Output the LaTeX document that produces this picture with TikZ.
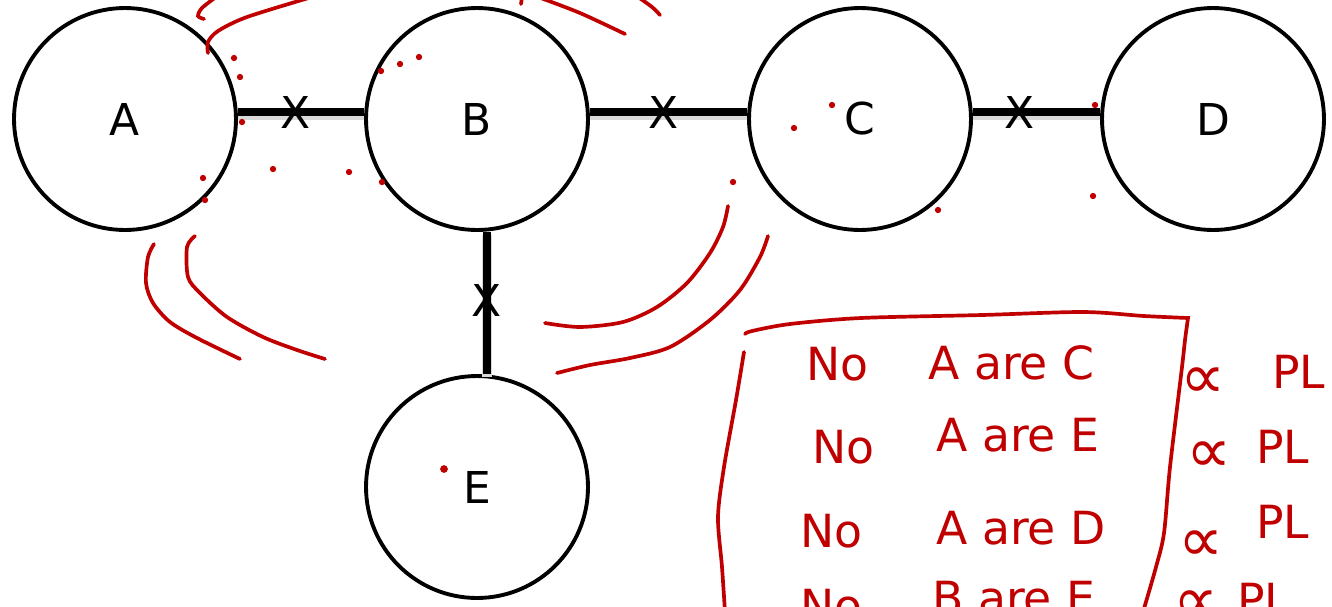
\documentclass[tikz,border=0pt]{standalone}
\usepackage{fontspec}
\setmainfont{DejaVu Sans}
\usepackage{tikz}
\definecolor{pen}{RGB}{192,0,0}

\begin{document}
\begin{tikzpicture}[x=0.02cm,y=-0.02cm,
  ball/.style={draw, circle, line width=2.2pt, minimum size=4.44cm, inner sep=0pt, font=\fontsize{25}{28}\selectfont},
  bar/.style={line width=4.8pt, preaction={draw, black!15, line width=6pt, transform canvas={yshift=-1.5pt}}},
  cut/.style={inner sep=0pt, font=\fontsize{25}{28}\selectfont},
  ink/.style={pen, line width=2.1pt, line cap=round},
  note/.style={pen, anchor=west, inner sep=0pt, font=\fontsize{26}{28}\selectfont},
  prop/.style={pen, anchor=west, inner sep=0pt, text height=0.45em, text depth=0pt, font=\fontsize{36}{36}\selectfont}]
\useasboundingbox (0,0) rectangle (1332,606);
\clip (0,0) rectangle (1332,606);
% the five variables
\node[ball] (a) at (125,119) {A};
\node[ball] (b) at (477,119) {B};
\node[ball] (c) at (860,119) {C};
\node[ball] (d) at (1213,119) {D};
\node[ball] (e) at (477,487) {E};
%\draw (a) -- (b);
\draw[bar] ([yshift=0.14cm]a.east) -- node[cut,pos=.46] (x1) {X} ([yshift=0.14cm]b.west);
\draw[bar] ([yshift=0.14cm]b.east) -- node[cut,pos=.47] (x2) {X} ([yshift=0.14cm]c.west);
\draw[bar] ([yshift=0.14cm]c.east) -- node[cut,pos=.37] (x3) {X} ([yshift=0.14cm]d.west);
\draw[bar] ([xshift=0.2cm]b.south) -- node[cut,pos=.48] (x4) {X} ([xshift=0.2cm]e.north);
% red marks
\draw[ink] plot[smooth] coordinates {(204,19) (198,16) (202,8) (216,-3)};
\draw[ink] plot[smooth] coordinates {(208,53) (208,42) (218,31) (247,17) (312,-3)};
\draw[ink] (522,-3) -- (521,4);
\draw[ink] plot[smooth] coordinates {(538,-3) (580,13) (625,34)};
\draw[ink] plot[smooth] coordinates {(638,-3) (652,7) (660,15)};
\draw[ink] plot[smooth] coordinates {(154,244) (148,257) (146,283) (153,303) (170,322) (197,338) (240,359)};
\draw[ink] plot[smooth] coordinates {(195,236) (187,247) (188,277) (200,293) (227,317) (263,337) (297,350) (325,359)};
\draw[ink] plot[smooth] coordinates {(728,206) (723,227) (710,253) (687,283) (657,307) (623,322) (580,327) (545,323)};
\draw[ink] plot[smooth] coordinates {(768,236) (760,257) (740,290) (710,320) (670,347) (630,358) (590,365) (557,373)};
\fill[pen] (234,58) circle (1.8pt) (240,77) circle (1.8pt) (242,122) circle (1.8pt)
  (203,178) circle (1.8pt) (205,200) circle (1.8pt) (273,169) circle (1.8pt)
  (349,172) circle (1.8pt) (382,182) circle (1.8pt) (381,71) circle (1.8pt)
  (400,64) circle (1.8pt) (419,57) circle (1.8pt) (832,105) circle (1.8pt)
  (794,128) circle (1.8pt) (733,182) circle (1.8pt) (938,210) circle (1.8pt)
  (1095,105) circle (1.8pt) (1093,196) circle (1.8pt) (444,469) circle (2.2pt);
% the box of results
\draw[ink] plot[smooth] coordinates {(745,334) (752,331) (790,324) (861,318) (982,315) (1083,312) (1144,316) (1188,318)}
  -- plot[smooth] coordinates {(1188,318) (1185,340) (1182,367) (1170,467) (1164,533) (1156,567) (1143,612)};
\draw[ink] plot[smooth] coordinates {(744,352) (736,400) (724,467) (718,517) (722,567) (725,612)};
\node[note] (n1) at (806,364) {No};
\node[note] (r1) at (928,363) {A are C};
\node[note] (n2) at (812,447) {No};
\node[note] (r2) at (936,435) {A are E};
\node[note] (n3) at (800,531) {No};
\node[note] (r3) at (936,528) {A are D};
\node[note] (n4) at (800,606) {No};
\node[note] (r4) at (932,598) {B are E};
\node[prop] (p1) at (1180,395) {∝};
\node[note] (q1) at (1272,372) {PL};
\node[prop] (p2) at (1186,469) {∝};
\node[note] (q2) at (1256,447) {PL};
\node[prop] (p3) at (1178,558) {∝};
\node[note] (q3) at (1256,522) {PL};
\node[prop] (p4) at (1173,618) {∝};
\node[note] (q4) at (1237,600) {PL};
\end{tikzpicture}
\end{document}
